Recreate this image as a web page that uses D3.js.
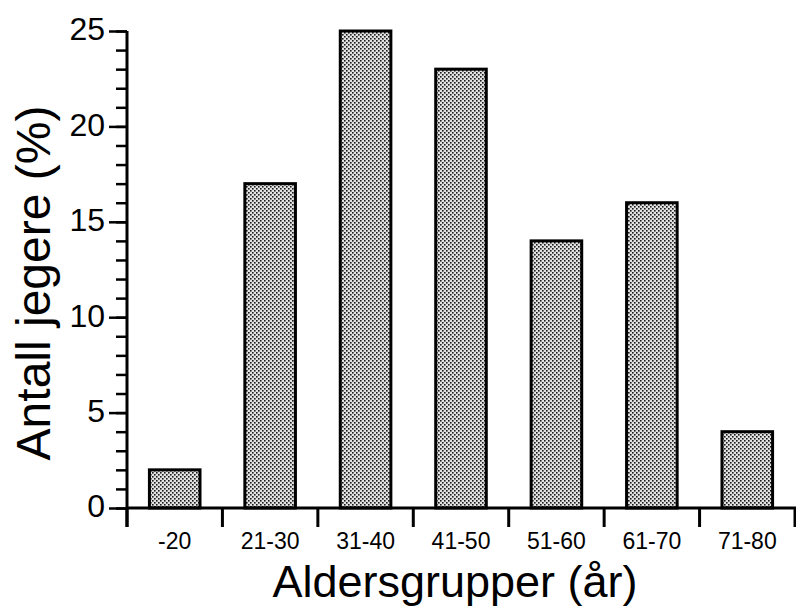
<!DOCTYPE html>
<html>
<head>
<meta charset="utf-8">
<script src="https://cdn.jsdelivr.net/npm/d3@7"></script>
<style>
  body { margin: 0; background: #fff; }
  svg { display: block; font-family: "Liberation Sans", Arial, sans-serif; }
</style>
</head>
<body>
<svg width="796" height="607"></svg>
<script>
// age groups and share of hunters (%)
var groups = ["-20", "21-30", "31-40", "41-50", "51-60", "61-70", "71-80"];
var shares = [2, 17, 25, 23, 14, 16, 4];
var majorTicks = [0, 5, 10, 15, 20, 25];
var minorTicks = d3.range(0, 26);

var svg = d3.select("svg"),
    plotLeft = 127, plotRight = 795, plotTop = 31, plotBottom = 508;

// dotted halftone fill like the print
var pat = svg.append("defs").append("pattern")
    .attr("id", "dots")
    .attr("patternUnits", "userSpaceOnUse")
    .attr("width", 4).attr("height", 4);
pat.append("rect").attr("width", 4).attr("height", 4).attr("fill", "#e2e2e2");
pat.append("rect").attr("x", 0).attr("y", 0).attr("width", 1.6).attr("height", 1.6).attr("fill", "#1a1a1a");
pat.append("rect").attr("x", 2).attr("y", 2).attr("width", 1.6).attr("height", 1.6).attr("fill", "#1a1a1a");

var x = d3.scaleBand().domain(groups).range([plotLeft, plotRight])
    .paddingInner(0.47).paddingOuter(0.235);
var y = d3.scaleLinear().domain([0, 25]).range([plotBottom, plotTop]);

// bars
svg.append("g").selectAll("rect")
  .data(groups)
  .enter().append("rect")
    .attr("x", function(d) { return x(d); })
    .attr("y", function(d, i) { return y(shares[i]); })
    .attr("width", x.bandwidth())
    .attr("height", function(d, i) { return y(0) - y(shares[i]); })
    .attr("fill", "url(#dots)")
    .attr("stroke", "#000")
    .attr("stroke-width", 3);

// minor y ticks
var minor = svg.append("g")
    .attr("transform", "translate(" + plotLeft + ",0)")
    .call(d3.axisLeft(y).tickValues(minorTicks).tickSize(11).tickFormat(""));
minor.select(".domain").remove();
minor.selectAll("line").attr("stroke-width", 2.5);

// major y ticks + labels
var yAxis = svg.append("g")
    .attr("transform", "translate(" + plotLeft + ",0)")
    .call(d3.axisLeft(y).tickValues(majorTicks).tickSize(18).tickSizeOuter(0).tickPadding(4));
yAxis.select(".domain").remove();
yAxis.selectAll("line").attr("stroke-width", 2.5);
yAxis.selectAll("text").attr("font-size", 32).attr("fill", "#000").attr("dy", "0.28em");

// x axis line and group boundaries
svg.append("line")
    .attr("x1", plotLeft).attr("x2", 796)
    .attr("y1", plotBottom).attr("y2", plotBottom)
    .attr("stroke", "#000").attr("stroke-width", 3);
svg.append("line")
    .attr("x1", plotLeft).attr("x2", plotLeft)
    .attr("y1", plotTop).attr("y2", plotBottom + 19)
    .attr("stroke", "#000").attr("stroke-width", 3);

var bounds = groups.map(function(d) { return x(d) - x.step() * x.paddingInner() / 2; })
    .concat([plotRight]);
svg.append("g").selectAll("line")
  .data(bounds)
  .enter().append("line")
    .attr("x1", function(d) { return d; }).attr("x2", function(d) { return d; })
    .attr("y1", plotBottom).attr("y2", plotBottom + 19)
    .attr("stroke", "#000").attr("stroke-width", 3);

// x labels
var xAxis = svg.append("g")
    .attr("transform", "translate(0," + plotBottom + ")")
    .call(d3.axisBottom(x).tickSize(0).tickPadding(28));
xAxis.select(".domain").remove();
xAxis.selectAll("text").attr("font-size", 23).attr("fill", "#000").attr("dy", "0.55em");

// titles
svg.append("text")
    .attr("x", 455).attr("y", 597)
    .attr("text-anchor", "middle")
    .attr("font-size", 45)
    .text("Aldersgrupper (år)");

svg.append("text")
    .attr("transform", "translate(50,283) rotate(-90)")
    .attr("text-anchor", "middle")
    .attr("font-size", 48)
    .text("Antall jegere (%)");
</script>
</body>
</html>
